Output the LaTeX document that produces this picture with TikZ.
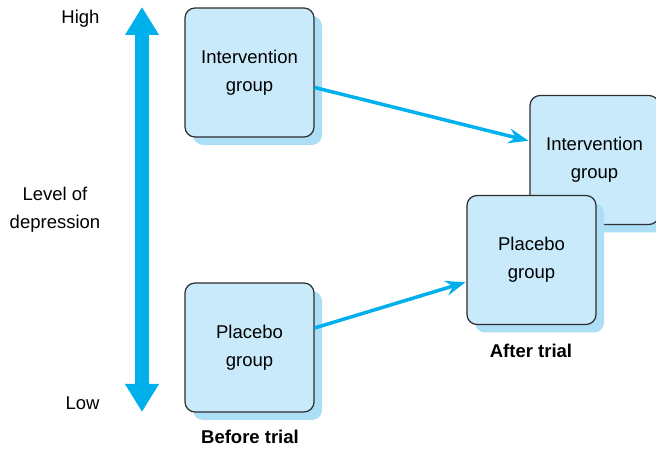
\documentclass[tikz,border=0pt]{standalone}
\usepackage{fontspec}
\setmainfont{Liberation Sans}
\usetikzlibrary{arrows.meta, positioning, shadows}
\definecolor{boxfill}{RGB}{201,234,250}
\definecolor{boxshade}{RGB}{172,222,246}
\definecolor{trialcyan}{RGB}{0,176,236}
\definecolor{boxedge}{RGB}{45,45,45}

\begin{document}
\begin{tikzpicture}[
  x=1pt, y=1pt,
  group/.style={draw=boxedge, line width=1.2pt, fill=boxfill,
    rounded corners=10pt, minimum width=129pt, minimum height=129pt,
    align=center, font=\fontsize{18.5}{28}\selectfont,
    drop shadow={shadow xshift=8pt, shadow yshift=-8pt,
      fill=boxshade, opacity=1}},
  move/.style={-{Stealth[length=20pt, width=15pt, inset=7pt]},
    line width=3.5pt, trialcyan, shorten >=1pt},
  axislabel/.style={font=\fontsize{18.5}{28}\selectfont, align=center},
  phase/.style={font=\bfseries\fontsize{18.5}{28}\selectfont}
]
\useasboundingbox (0,0) rectangle (656,449);

% before trial
\node[group] (IB) at (249.5,376.5) {Intervention\\group};
\node[group] (PB) at (249.5,101.5) {Placebo\\group};
% after trial
\node[group] (IA) at (594.5,289) {Intervention\\group};
\node[group] (PA) at (531.5,189) {Placebo\\group};

\draw[move] ([yshift=-15pt]IB.east) -- ([yshift=19pt]IA.west);
\draw[move] ([yshift=19.5pt]PB.east) -- ([yshift=-22pt]PA.west);

% level axis
\coordinate (hi) at (142,442);
\coordinate (lo) at (142,37);
\draw[line width=14pt, trialcyan,
  {Triangle[width=32pt, length=28pt]}-{Triangle[width=32pt, length=28pt]}]
  (lo) -- (hi);

\node[axislabel, anchor=east] (high) at (103,430) {High};
\node[axislabel, anchor=east] (low) at (103,46) {Low};
\node[axislabel] (level) at (55,239) {Level of\\depression};

\node[phase] (before) at (250,12) {Before trial};
\node[phase] (after) at (531,98) {After trial};
\end{tikzpicture}
\end{document}
